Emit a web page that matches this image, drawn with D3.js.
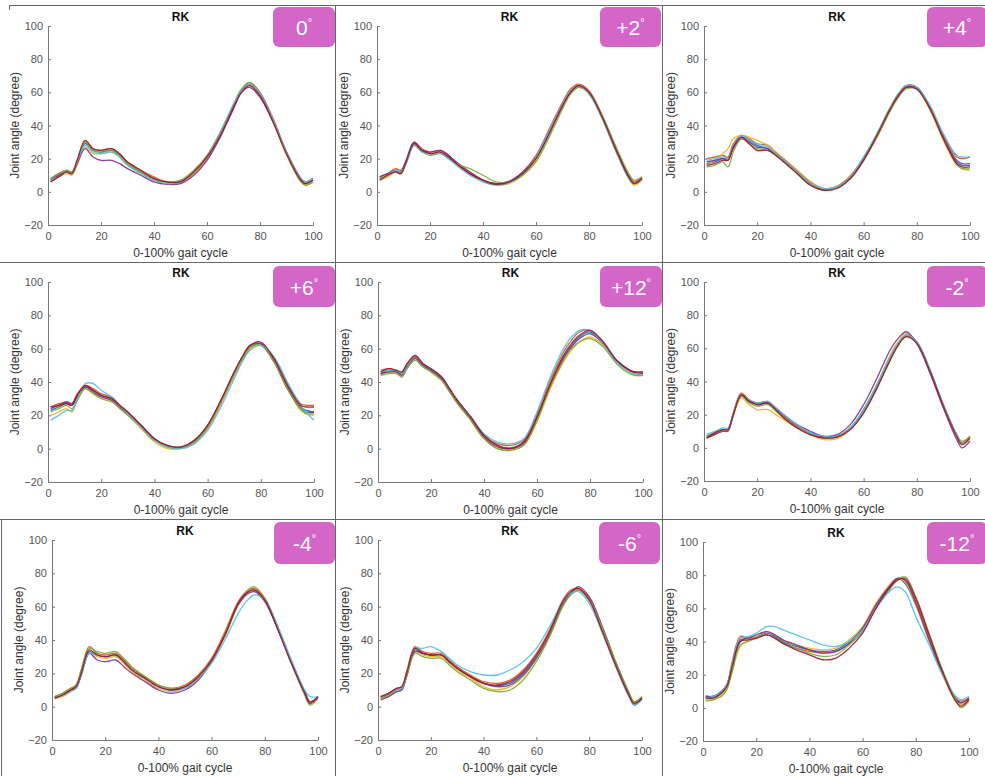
<!DOCTYPE html>
<html><head><meta charset="utf-8">
<script src="https://cdn.jsdelivr.net/npm/d3@7"></script>
<style>body{margin:0;background:#fff}svg{display:block}</style>
</head><body>
<script>
// ---------- DATA ----------
const gaitX = [1,4,7,9,11,14,17,20,24,27,30,35,40,45,50,55,60,65,70,73,76,80,85,90,95,97,100];
const xTickValues = [0,20,40,60,80,100];
const yTickValues = [-20,0,20,40,60,80,100];
const panelLabels = ["0","+2","+4","+6","+12","-2","-4","-6","-12"];
const panelTitle = "RK";
const xAxisLabel = "0-100% gait cycle";
const yAxisLabel = "Joint angle (degree)";

const rk0 = [
 [7,10,12,11,18,29,25,24,25,22,17,12,8,5.5,6.5,12,21,35,52,61,65,58,42,23,8,5,7],
 [8,11,13,12,19,30,26,25,26,23,18,13,9,6,6,11,20,34,51,61,66,60,44,24,9,5,8],
 [6,9,11,10,16,27,23,23,24,21,16,11,7,5,5.5,11,20,34,51,60,64,58,42,22,7,4,6],
 [7,10,12,11,17,26,21,19,19,17,14,10,6,4.5,5,10,19,33,50,60,63,57,42,24,9,6,8],
 [8,11,13,12,18,30,25,24,25,22,17,12,8,6,7,13,22,36,53,62,66,59,43,23,7,4,6],
 [7,9,12,11,18,28,24,23,24,21,16,11,7,5,6,12,21,35,52,61,65,59,43,24,9,6,8],
 [6,9,12,11,19,31,26,25,26,23,18,13,8,6,6,12,21,34,51,60,64,58,42,23,8,5,7]
];
const rkP2 = [
 [8,10,13,12,18,29,25,23,24,21,17,11,7,4.5,6,11,20,36,52,60,64,60,45,26,9,5,8],
 [9,11,14,13,19,30,26,24,25,22,17,12,7,5,6,12,22,38,54,62,65,61,46,27,10,6,9],
 [7,9,12,11,17,28,24,23,24,21,16,11,6,4,5,10,19,35,51,59,63,59,44,25,8,4,7],
 [9,11,13,12,19,30,25,24,25,22,18,12,7,5,6.5,12,21,36,52,60,64,60,45,26,9,5,8],
 [8,10,12,11,18,28,24,22,23,20,17,14,10,6,6,10,18,33,50,59,63,60,46,28,11,7,9],
 [8,10,13,12,17,28,24,23,23,20,16,10,6,4,5.5,11,21,37,53,61,64,59,44,25,8,5,8],
 [7,10,12,11,18,29,25,23,24,21,17,11,7,4.5,6,11,20,35,52,60,64,60,45,26,9,5,8]
];
const rkP4 = [
 [17,18,20,20,27,33,31,28,26,23,19,12,5,1.5,3,9,20,34,50,58,63,62,50,32,18,16,16],
 [20,21,22,21,29,34,32,29,28,24,20,13,6,2,3,8,19,33,49,57,63,63,51,34,21,20,21],
 [16,19,23,26,32,34,33,31,28,24,20,13,6,2,3.5,10,21,35,51,59,64,62,49,31,16,14,13],
 [18,19,20,19,26,32,30,27,26,23,19,12,5,1,3,9,20,34,50,58,64,63,51,33,19,17,17],
 [15,16,18,15,24,32,29,26,25,22,18,11,4,1,2.5,8,19,33,49,57,62,62,50,32,17,14,14],
 [19,20,21,20,28,34,31,29,27,23,19,12,5,2,3,9,21,35,51,59,64,63,52,35,22,21,21],
 [16,17,19,19,27,33,29,25,25,22,18,11,4,1,2,8,19,34,50,58,63,62,50,32,17,15,15]
];
const rkP6 = [
 [23,25,27,26,31,37,35,32,30,25,21,13,5,1,0.5,4,13,28,45,54,61,63,53,37,25,23,22],
 [25,27,28,27,33,38,36,33,31,26,22,14,6,1.5,0.5,4,12,27,44,53,60,63,54,39,27,26,26],
 [20,22,24,22,29,36,33,31,29,25,20,12,4,0,0,3,12,27,44,53,60,62,52,36,23,21,20],
 [24,26,28,27,32,37,34,31,29,25,21,14,6,1.5,1,5,14,29,46,55,62,63,52,36,24,22,22],
 [22,24,26,24,29,36,33,30,28,24,20,13,5,1,0.5,4,13,28,45,54,61,62,52,36,24,21,21],
 [17,20,23,23,30,39,39,35,31,26,21,13,5,1,0,3,11,25,42,52,59,62,55,40,26,22,17],
 [25,26,27,26,32,38,35,32,30,26,22,14,6,2,1,5,14,29,46,55,62,64,54,38,26,25,25]
];
const rkP12 = [
 [45,47,46,45,50,55,50,47,42,35,28,19,8,2,0.5,4,19,38,55,62,67,70,63,53,47,45,45],
 [47,48,47,46,51,55,51,48,43,36,29,19,8,3,2,5,21,41,58,65,70,71,64,53,47,46,46],
 [44,46,45,44,49,54,49,46,41,34,27,17,6,0,-1,2,16,36,52,59,64,67,62,52,46,44,44],
 [45,46,46,44,49,54,50,47,42,35,28,18,7,1,0,3,18,38,54,61,66,69,63,53,47,46,45],
 [44,45,45,43,48,53,49,46,41,34,27,17,6,0,-1,2,17,37,53,60,64,66,61,51,45,44,44],
 [46,47,47,45,50,56,51,48,43,36,29,19,9,4,3,6,22,43,60,67,71,71,63,52,46,45,46],
 [46,48,47,46,51,56,51,48,43,36,29,19,8,2,0,4,19,39,56,63,68,71,64,53,47,46,46]
];
const rkM2 = [
 [7,9,11,11,20,31,28,26,27,23,19,13,9,6.5,7,12,23,38,55,63,68,63,46,25,7,3,6],
 [6,8,11,11,21,33,29,27,28,24,19,13,8,6,6.5,11,21,36,53,62,68,64,47,26,8,3,7],
 [7,9,11,11,19,30,26,23,23,20,17,12,8,5,5.5,11,22,38,56,64,69,63,45,24,6,2,5],
 [6,8,10,10,20,32,28,27,27,24,20,14,10,7,8,14,26,42,59,66,70,63,45,24,5,0,4],
 [7,9,11,11,20,31,27,25,26,22,18,12,8,6,7,12,22,37,54,62,67,63,46,26,8,4,7],
 [8,10,12,12,21,32,29,27,28,24,20,14,9,7,7,12,23,38,55,63,68,64,47,26,8,3,6],
 [6,9,11,11,20,32,28,26,27,23,18,12,8,6,6.5,11,21,36,53,62,67,63,46,25,7,2,6]
];
const rkM4 = [
 [5.5,7,10,12,20,33,31,30,31,27,22,17,12,10,12,18,28,43,62,68,70,64,46,26,8,2,6],
 [6,8,11,12,22,36,32,31,32,28,23,18,13,11,13,19,29,45,63,69,71,65,47,27,9,3,6],
 [5,6,9,11,19,32,30,29,30,26,21,16,11,9,11,17,27,42,61,67,70,64,46,26,8,2,5],
 [6,7,10,11,19,32,28,27,28,24,20,15,10,8,10,16,27,43,61,67,69,63,46,27,9,3,6],
 [6,8,11,13,22,35,33,32,33,29,24,18,13,11,12,18,28,44,62,69,72,65,47,26,7,1,5],
 [5,7,9,11,19,32,31,30,31,27,22,17,12,10,11,17,26,40,56,63,67,64,48,28,10,6,6],
 [5,7,10,12,20,34,31,30,31,27,22,17,12,10,12,18,28,43,62,68,70,64,46,26,8,2,6]
];
const rkM6 = [
 [5,7,10,11,20,34,32,31,31,27,23,18,14,12.5,14,20,30,44,62,68,70,64,46,25,7,2,5],
 [6,8,11,12,22,36,33,32,32,28,24,19,15,14,16,22,32,46,64,70,71,65,47,26,8,3,6],
 [5,6,9,10,19,33,31,30,30,26,22,17,12,10,12,18,29,44,62,68,70,64,46,25,7,2,5],
 [4,6,9,10,19,33,32,31,31,27,23,18,14,12,13,19,29,43,61,68,72,66,48,27,8,1,5],
 [5,7,10,11,19,32,30,29,29,25,21,16,11,9,10,16,27,42,60,67,70,64,47,27,9,3,6],
 [6,8,10,11,21,35,35,36,33,29,25,21,19,19,22,27,35,48,63,68,69,62,44,24,6,1,4],
 [6,8,11,12,21,35,32,31,31,27,23,18,14,13,15,21,31,45,63,69,71,64,45,25,7,2,5]
];
const rkM12 = [
 [6,6,9,13,25,40,42,43,45,43,40,37,35,34,35,40,48,62,73,78,75,62,41,21,5,3,5],
 [7,7,10,14,28,43,42,42,44,42,39,36,34,33,34,39,47,60,72,77,77,64,43,22,6,4,6],
 [5,5,8,12,22,37,41,43,46,44,41,38,36,35,36,41,49,63,74,78,76,62,40,20,4,2,5],
 [7,7,10,14,26,41,42,44,46,44,41,38,35,33,34,39,48,62,73,78,77,63,41,21,5,3,6],
 [4,5,7,11,22,38,40,42,44,42,39,36,33,31,32,38,46,60,71,77,79,67,45,23,5,0,4],
 [6,7,10,14,27,42,43,45,49,49,47,44,41,38,37,40,47,60,70,73,70,55,38,20,7,5,7],
 [6,6,9,13,25,40,41,42,44,42,39,35,32,29,30,36,45,60,72,77,78,66,44,22,4,1,5]
];
const panelSeries = [rk0, rkP2, rkP4, rkP6, rkP12, rkM2, rkM4, rkM6, rkM12];
const lineColors = ["#0072BD","#D95319","#EDB120","#7E2F8E","#77AC30","#4DBEEE","#A2142F"];

// ---------- LAYOUT ----------
const panelBox = [
 {x0:48, x1:313, yt:26, yb:225, bx:273, by:7, bw:62, bh:40},
 {x0:377,x1:642, yt:26, yb:225, bx:600, by:7, bw:61, bh:40},
 {x0:704,x1:970, yt:26, yb:225, bx:927, by:7, bw:60, bh:40},
 {x0:48, x1:314, yt:282,yb:482, bx:273, by:266,bw:62, bh:41},
 {x0:378,x1:643, yt:282,yb:482, bx:600, by:266,bw:62, bh:41},
 {x0:704,x1:970, yt:282,yb:481, bx:927, by:266,bw:60, bh:41},
 {x0:52, x1:318, yt:540,yb:740, bx:274, by:522,bw:61, bh:42},
 {x0:378,x1:642, yt:540,yb:740, bx:599, by:522,bw:61, bh:42},
 {x0:703,x1:969, yt:542,yb:741, bx:927, by:522,bw:60, bh:42}
];
const font = "'Liberation Sans', Arial, sans-serif";

const svg = d3.select("body").append("svg").attr("width",985).attr("height",776);

// frame lines
const frame = svg.append("g").attr("stroke","#666").attr("stroke-width",1).attr("fill","none");
frame.append("line").attr("x1",9).attr("x2",985).attr("y1",5.5).attr("y2",5.5);
frame.append("line").attr("x1",9.5).attr("x2",9.5).attr("y1",5).attr("y2",10);
frame.append("line").attr("x1",335.5).attr("x2",335.5).attr("y1",5).attr("y2",776);
frame.append("line").attr("x1",662.5).attr("x2",662.5).attr("y1",5).attr("y2",776);
frame.append("line").attr("x1",0).attr("x2",985).attr("y1",262.5).attr("y2",262.5);
frame.append("line").attr("x1",0).attr("x2",985).attr("y1",519.5).attr("y2",519.5);
frame.append("line").attr("x1",1.5).attr("x2",1.5).attr("y1",519).attr("y2",776);

panelSeries.forEach((series, i) => {
  const L = panelBox[i];
  const xs = d3.scaleLinear().domain([0,100]).range([L.x0, L.x1]);
  const ys = d3.scaleLinear().domain([-20,100]).range([L.yb, L.yt]);
  const g = svg.append("g");

  const line = d3.line()
    .x((d,j) => xs(gaitX[j]))
    .y(d => ys(d))
    .curve(d3.curveCatmullRom.alpha(0.5));

  g.append("g").selectAll("path").data(series).join("path")
    .attr("d", line)
    .attr("fill","none")
    .attr("stroke",(d,k) => lineColors[k % lineColors.length])
    .attr("stroke-width",1.3)
    .attr("stroke-opacity",0.9);

  const xa = g.append("g").attr("transform",`translate(0,${L.yb})`)
    .call(d3.axisBottom(xs).tickValues(xTickValues).tickSizeInner(-3).tickSizeOuter(0).tickPadding(7));
  const ya = g.append("g").attr("transform",`translate(${L.x0},0)`)
    .call(d3.axisLeft(ys).tickValues(yTickValues).tickSizeInner(-3).tickSizeOuter(0).tickPadding(5));
  [xa, ya].forEach(a => {
    a.select(".domain").attr("stroke","#777");
    a.selectAll(".tick line").attr("stroke","#777");
    a.selectAll(".tick text").attr("fill","#555").style("font-size","11px").style("font-family",font);
  });

  const mid = (L.x0 + L.x1) / 2;
  g.append("text").attr("x",mid).attr("y",L.yt - 5).attr("text-anchor","middle")
    .style("font-family",font).style("font-size","12px").style("font-weight","bold").attr("fill","#111")
    .text(panelTitle);
  g.append("text").attr("x",mid).attr("y",L.yb + 32).attr("text-anchor","middle")
    .style("font-family",font).style("font-size","12px").attr("fill","#333")
    .text(xAxisLabel);
  g.append("text").attr("transform",`translate(${L.x0 - 29},${(L.yt + L.yb)/2}) rotate(-90)`)
    .attr("text-anchor","middle")
    .style("font-family",font).style("font-size","12px").attr("fill","#333")
    .text(yAxisLabel);

  // badge
  g.append("rect").attr("x",L.bx).attr("y",L.by).attr("width",L.bw).attr("height",L.bh)
    .attr("rx",6).attr("fill","#d466c8");
  const t = g.append("text").attr("x",L.bx + L.bw/2).attr("y",L.by + L.bh/2 + 8)
    .attr("text-anchor","middle").attr("fill","#fff")
    .style("font-family",font).style("font-size","21px");
  t.append("tspan").text(panelLabels[i]);
  t.append("tspan").attr("dy",-9).style("font-size","11px").text("°");
});
</script>
</body></html>
